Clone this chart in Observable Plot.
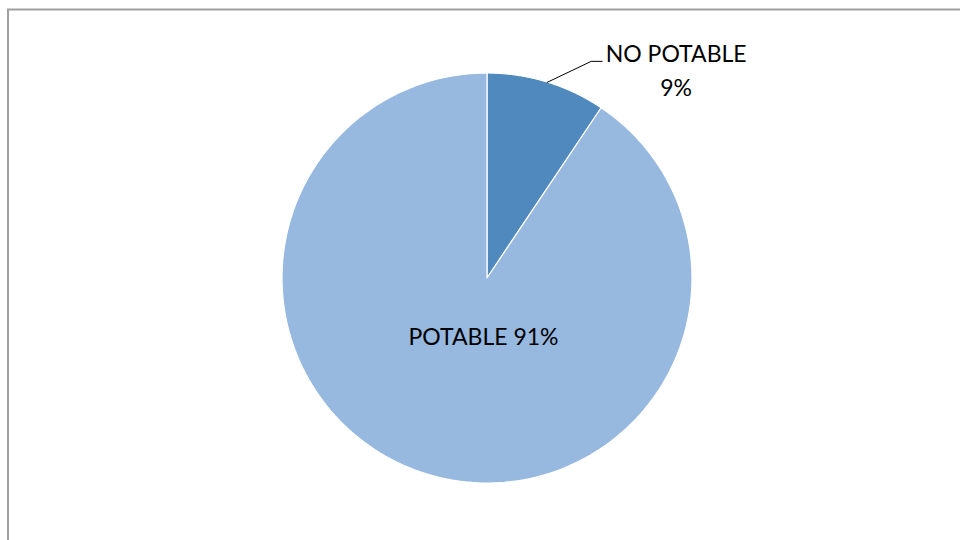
<!DOCTYPE html>
<html>
<head>
<meta charset="utf-8">
<script src="https://cdn.jsdelivr.net/npm/d3@7"></script>
<script src="https://cdn.jsdelivr.net/npm/@observablehq/plot@0.6"></script>
<style>
  html, body { margin: 0; padding: 0; background: #fff; }
  #chart { width: 960px; height: 540px; overflow: hidden; }
</style>
</head>
<body>
<div id="chart"></div>
<script>
const categories = ["NO POTABLE", "POTABLE"];
const values = [9.4, 90.6];
const labels = ["NO POTABLE\n9%", "POTABLE 91%"];
const colors = ["#4F89BD", "#97B8DF"];

const W = 960, H = 540;
const cx = 487, cy = 278, R = 205;

const pie = d3.pie().sort(null).value(d => d.value)
  (categories.map((c, i) => ({name: c, value: values[i], label: labels[i], color: colors[i]})));

// slice polygons as point data (through Plot's x/y scales)
const poly = [];
pie.forEach((s, i) => {
  const n = 180;
  poly.push({slice: s.data.name, x: cx, y: cy, color: s.data.color});
  for (let k = 0; k <= n; k++) {
    const a = s.startAngle + (s.endAngle - s.startAngle) * k / n;
    poly.push({slice: s.data.name, x: cx + R * Math.sin(a), y: cy - R * Math.cos(a), color: s.data.color});
  }
});

// leader line for NO POTABLE
const s0 = pie[0];
const mid0 = (s0.startAngle + s0.endAngle) / 2;
const p0 = {x: cx + R * Math.sin(mid0), y: cy - R * Math.cos(mid0)};
const leader = [p0, {x: p0.x + 44, y: p0.y - 21}, {x: p0.x + 55, y: p0.y - 21}];

const sliceMark = (index, scales) => {
  const g = d3.create("svg:g");
  const groups = d3.groups(poly, d => d.slice);
  for (const [name, pts] of groups) {
    const line = d3.line().x(d => scales.x(d.x)).y(d => scales.y(d.y));
    g.append("path")
      .attr("d", line(pts) + "Z")
      .attr("fill", pts[0].color)
      .attr("stroke", "#fff")
      .attr("stroke-width", 1.2)
      .attr("stroke-linejoin", "round");
  }
  return g.node();
};

const plot = Plot.plot({
  width: W, height: H,
  margin: 0,
  x: {domain: [0, W], axis: null},
  y: {domain: [0, H], range: [0, H], axis: null},
  style: {fontFamily: "Lato, 'Open Sans', sans-serif", background: "#fff"},
  marks: [
    sliceMark,
    Plot.line(leader, {x: "x", y: "y", stroke: "#000", strokeWidth: 1}),
    Plot.text([{x: p0.x + 129, y: p0.y - 28, t: "NO POTABLE"}], {x: "x", y: "y", text: "t", fontSize: 23, fill: "#000", textAnchor: "middle"}),
    Plot.text([{x: p0.x + 129, y: p0.y + 6, t: "9%"}], {x: "x", y: "y", text: "t", fontSize: 23, fill: "#000", textAnchor: "middle"}),
    Plot.text([{x: cx - 4, y: cy + 59, t: labels[1]}], {x: "x", y: "y", text: "t", fontSize: 23, fill: "#000", textAnchor: "middle"})
  ]
});

// chart area border (outer Excel frame)
const svg = d3.select(plot);
svg.insert("rect", ":first-child")
  .attr("x", 8).attr("y", 9.5).attr("width", 1000).attr("height", 1000)
  .attr("fill", "none").attr("stroke", "#A0A0A0").attr("stroke-width", 2);

document.getElementById("chart").appendChild(plot);
</script>
</body>
</html>
